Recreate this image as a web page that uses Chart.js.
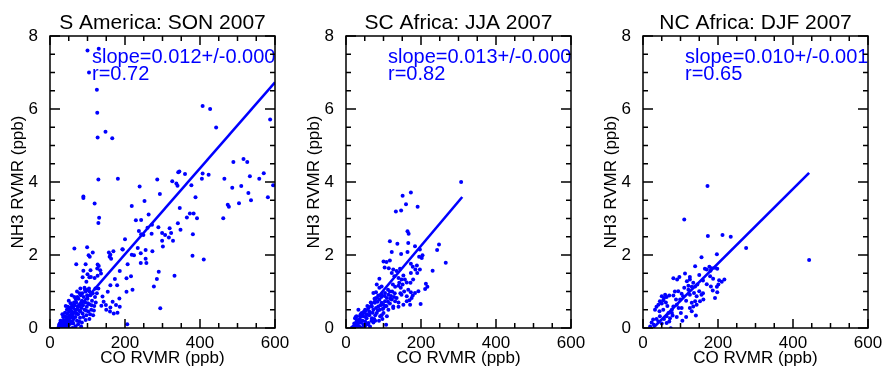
<!DOCTYPE html>
<html>
<head>
<meta charset="utf-8">
<script src="https://cdn.jsdelivr.net/npm/chart.js@4.4.1/dist/chart.umd.min.js"></script>
<style>
  html, body { margin: 0; padding: 0; background: #fff; }
  #wrap { position: relative; width: 882px; height: 371px; overflow: hidden; }
  canvas { position: absolute; top: 0; }
</style>
</head>
<body>
<div id="wrap">
  <canvas id="c1" width="290" height="371" style="left:0px"></canvas>
  <canvas id="c2" width="290" height="371" style="left:296px"></canvas>
  <canvas id="c3" width="289" height="371" style="left:593px"></canvas>
</div>
<script>
// axis ticks
const xTicks = [0, 200, 400, 600]
const yTicks = [0, 2, 4, 6, 8]
const xMinorStep = 50
const yMinorStep = 0.5

const titles = ['S America: SON 2007', 'SC Africa: JJA 2007', 'NC Africa: DJF 2007']
const slopeLabels = ['slope=0.012+/-0.000', 'slope=0.013+/-0.000', 'slope=0.010+/-0.001']
const rLabels = ['r=0.72', 'r=0.82', 'r=0.65']

// S America (CO ppb, NH3 ppb)
const saCO = [100,130,104,125,126,127,148,166,407,427,
  443,587,489,516,526,345,342,360,407,423,
  405,465,533,570,558,595,486,510,529,536,
  581,504,474,477,462,286,326,337,340,239,
  293,377,388,252,218,346,263,229,243,373,
  383,365,392,341,348,381,272,260,237,243,
  271,249,289,299,307,319,323,317,299,328,
  301,200,193,234,255,242,218,224,273,255,
  242,257,207,380,410,216,204,290,285,332,
  277,204,220,294,206,186,186,129,181,89,
  89,119,131,129,65,99,103,106,114,157,
  161,169,159,163,194,127,95,70,130,126,
  134,89,108,100,105,119,127,136,87,97,
  81,92,98,105,140,154,143,149,161,167,
  176,185,48,57,109,121,129,161,179,173,
  137,160,170,150,180,
  22,25,28,30,32,35,36,38,40,42,
  44,45,47,48,50,52,53,55,56,58,
  60,60,62,63,65,66,68,70,70,72,
  74,75,76,78,80,80,82,84,85,87,
  88,90,92,94,95,97,98,100,102,105,
  108,110,112,115,118,120,35,40,45,50,
  55,65,72,60,68,75,85,95,105,28,
  33,42,50,58,48,38,55,83,30,26,
  24,27,31,34,37,39,41,43,46,49,
  51,54,57,59,61,64,67,69,71,73,
  77,79,81,83,86,89,91,93,96,99,
  101,104,107,111,114,117,122,125,62,78]
const saNH3 = [7.6,7.65,7.0,6.53,5.9,5.22,5.38,5.2,6.08,6.0,
  5.49,5.71,4.55,4.63,4.55,4.29,4.27,4.22,4.23,4.2,
  4.09,4.09,4.16,4.24,4.09,3.91,3.84,3.89,3.7,3.5,
  3.58,3.42,3.38,3.32,3.01,4.07,4.02,3.96,3.9,3.88,
  3.67,3.91,3.58,3.48,3.34,3.29,3.11,2.95,2.96,3.14,
  3.14,3.03,3.01,2.87,2.69,2.57,2.83,2.75,2.66,2.57,
  2.58,2.55,2.76,2.6,2.55,2.73,2.6,2.48,2.39,2.39,
  2.23,2.43,2.16,2.19,2.14,2.05,2.01,1.99,2.1,1.9,
  1.78,1.78,1.75,1.98,1.88,1.42,1.36,1.54,1.34,1.43,
  1.14,0.99,1.05,0.54,0.1,0.58,1.56,4.07,4.09,3.6,
  3.56,3.41,3.02,2.88,2.18,2.21,1.99,1.95,2.07,2.07,
  2.01,2.1,1.95,1.9,2.15,1.74,1.75,1.75,1.7,1.63,
  1.58,1.57,1.58,1.47,1.39,1.37,1.43,1.49,1.39,1.27,
  1.08,1.1,1.04,1.01,0.86,0.99,0.72,0.63,0.56,0.72,
  0.63,0.81,0.58,0.56,1.4,1.08,1.08,1.17,1.17,1.34,
  0.61,0.45,0.4,0.5,0.42,
  0.0,0.05,0.02,0.1,0.0,0.08,0.15,0.05,0.2,0.1,
  0.0,0.25,0.15,0.3,0.08,0.2,0.35,0.12,0.28,0.45,
  0.18,0.38,0.55,0.25,0.42,0.62,0.3,0.5,0.7,0.2,
  0.58,0.38,0.8,0.48,0.65,0.28,0.9,0.55,0.75,0.4,
  0.62,0.85,0.5,0.7,1.0,0.35,0.58,0.8,0.45,0.65,
  0.9,0.5,0.75,0.35,0.6,0.85,0.3,0.42,0.5,0.55,
  0.68,0.85,1.0,0.0,0.05,0.1,0.15,0.22,0.25,0.2,
  0.38,0.6,0.75,0.9,0.02,-0.02,-0.02,0.04,0.05,0.12,
  0.08,0.0,0.18,0.12,0.22,0.32,0.05,0.3,0.4,0.18,
  0.45,0.5,0.38,0.62,0.3,0.7,0.5,0.78,0.4,0.85,
  0.62,0.95,0.45,0.7,0.95,0.3,0.72,1.05,0.48,0.9,
  0.68,1.08,0.38,0.62,0.95,0.48,0.7,0.95,0.12,0.18]

// SC Africa
const scCO = [307,151,173,160,191,133,147,164,167,117,
  137,166,184,197,248,243,122,147,164,195,
  202,204,266,100,108,103,117,114,126,122,
  135,144,173,178,189,185,173,197,190,231,
  89,129,140,153,157,162,172,179,213,217,
  211,125,131,140,146,151,166,173,178,184,
  193,175,169,162,199,82,89,95,73,80,
  86,95,104,113,117,109,122,131,140,117,
  126,104,95,89,80,77,69,60,51,73,
  82,64,42,33,46,55,69,37,28,24,
  20,33,46,15,60,73,107,91,100,37,
  28,51,64,42,24,86,100,113,126,135,
  148,140,109,153,162,171,148,142,55,62,
  78,85,92,98,105,112,120,130,68,58,
  40,50,30,75,88,95,145,155,
  18,22,26,30,35,39,44,48,53,57,
  62,66,71,76,80,84,90,94,99,103,
  108,112,118,123,128,35,55,78,97,26]
const scNH3 = [4.0,3.62,3.71,3.39,3.32,3.19,3.22,2.65,2.58,2.38,
  2.31,2.33,2.24,2.15,2.29,2.14,2.08,2.03,2.08,1.95,
  1.92,1.99,1.79,1.82,1.81,1.66,1.85,1.64,1.6,1.51,
  1.56,1.62,1.76,1.68,1.71,1.6,1.51,1.6,1.51,1.57,
  1.35,1.42,1.37,1.44,1.33,1.25,1.24,1.33,1.21,1.13,
  1.07,1.19,1.13,1.16,1.1,1.19,1.05,0.98,0.89,0.96,
  1.01,0.82,0.76,0.87,0.66,1.19,1.1,1.14,0.96,0.98,
  0.89,0.91,0.96,0.91,1.0,0.82,0.78,0.73,0.7,0.67,
  0.59,0.73,0.69,0.78,0.82,0.69,0.59,0.55,0.5,0.5,
  0.41,0.41,0.41,0.5,0.32,0.27,0.27,0.23,0.18,0.09,
  0.04,0.04,0.09,0.0,0.14,0.15,0.09,0.32,0.41,0.32,
  0.32,0.18,0.04,0.0,0.27,0.59,0.55,0.5,0.55,0.82,
  0.91,0.58,0.32,0.64,0.73,0.64,1.33,1.24,0.38,0.45,
  0.35,0.48,0.62,0.52,0.6,0.72,0.88,0.95,0.2,0.1,
  0.15,0.05,0.1,0.25,0.2,0.35,0.95,1.0,
  0.02,0.12,0.05,0.22,0.15,0.38,0.2,0.45,0.3,0.6,
  0.35,0.7,0.42,0.8,0.55,0.72,0.5,0.85,0.65,0.88,
  0.6,1.05,0.8,1.0,0.85,0.05,0.1,0.2,0.25,0.3]

// NC Africa
const ncCO = [172,110,173,212,234,275,443,197,156,139,
  165,170,177,183,192,198,180,112,97,91,
  81,179,187,203,210,217,201,117,125,134,
  121,130,139,145,181,197,186,198,192,94,
  103,107,99,81,121,125,136,143,150,156,
  161,152,139,130,143,125,134,141,130,101,
  103,90,77,81,59,50,56,63,70,45,
  54,61,41,50,36,32,44,54,68,63,
  45,36,27,23,29,19,41,56,72,70,
  50,63,77,79,74,88,110,115,85,160,
  150,95,115,105,160,170,125,90,65]
const ncNH3 = [3.89,2.97,2.52,2.55,2.5,2.19,1.86,2.02,1.94,1.69,
  1.62,1.6,1.68,1.64,1.65,1.62,1.57,1.49,1.4,1.33,
  1.36,1.42,1.35,1.31,1.27,1.33,1.19,1.28,1.33,1.24,
  1.16,1.13,1.14,1.19,1.14,1.13,1.03,0.98,0.82,1.01,
  0.94,0.87,0.78,0.89,1.05,0.91,0.96,0.87,1.01,0.91,
  0.78,0.73,0.73,0.69,0.64,0.55,0.59,0.34,0.46,0.41,
  0.55,0.64,0.5,0.59,0.91,0.87,0.82,0.85,0.89,0.73,
  0.76,0.7,0.64,0.67,0.58,0.5,0.46,0.5,0.41,0.32,
  0.32,0.25,0.23,0.15,0.09,0.04,0.18,0.25,0.27,0.18,
  0.12,0.14,0.41,0.34,-0.01,0.78,1.1,0.75,1.0,1.3,
  1.45,0.55,0.3,0.2,0.95,1.2,1.4,0.3,0.6]

// regression line end points [CO], [NH3]
const fitCO = [[30, 600], [15, 310], [27, 443]]
const fitNH3 = [[0.02, 6.73], [0.0, 3.59], [0.0, 4.25]]

const panels = [[saCO, saNH3], [scCO, scNH3], [ncCO, ncNH3]]

const BLUE = '#0000ff'
const FONT = "'Liberation Sans', Arial, Helvetica, sans-serif"

// box + inward ticks on all four sides
const frameTicks = {
  id: 'frameTicks',
  afterDraw(chart) {
    const {ctx, chartArea: a, scales: {x, y}} = chart
    ctx.save()
    ctx.strokeStyle = '#000'
    ctx.lineWidth = 1.5
    ctx.strokeRect(a.left, a.top, a.right - a.left, a.bottom - a.top)
    ctx.beginPath()
    for (let v = x.min; v <= x.max; v += xMinorStep) {
      const px = x.getPixelForValue(v)
      const len = xTicks.includes(v) ? 9 : 5
      ctx.moveTo(px, a.bottom); ctx.lineTo(px, a.bottom - len)
      ctx.moveTo(px, a.top); ctx.lineTo(px, a.top + len)
    }
    for (let v = y.min; v <= y.max + 1e-9; v += yMinorStep) {
      const py = y.getPixelForValue(v)
      const len = yTicks.includes(v) ? 10 : 5
      ctx.moveTo(a.left, py); ctx.lineTo(a.left + len, py)
      ctx.moveTo(a.right, py); ctx.lineTo(a.right - len, py)
    }
    ctx.stroke()
    ctx.restore()
  }
}

// panel title + slope / r annotation
const panelText = {
  id: 'panelText',
  afterDatasetsDraw(chart, args, opts) {
    const {ctx, chartArea: a} = chart
    ctx.save()
    ctx.textBaseline = 'alphabetic'
    ctx.fillStyle = '#000'
    ctx.font = '21px ' + FONT
    ctx.textAlign = 'center'
    ctx.fillText(opts.title, (a.left + a.right) / 2, 29)
    ctx.fillStyle = BLUE
    ctx.font = '20px ' + FONT
    ctx.textAlign = 'left'
    ctx.fillText(opts.slope, a.left + 42, a.top + 27)
    ctx.fillText(opts.r, a.left + 42, a.top + 44)
    ctx.restore()
  }
}

function makeChart(id, i) {
  const [co, nh3] = panels[i]
  const pts = co.map((c, k) => ({x: c, y: nh3[k]}))
  const line = fitCO[i].map((c, k) => ({x: c, y: fitNH3[i][k]}))
  const canvas = document.getElementById(id)
  new Chart(canvas, {
    type: 'scatter',
    data: {
      datasets: [
        {
          type: 'line',
          data: line,
          borderColor: BLUE,
          borderWidth: 2.6,
          pointRadius: 0,
          fill: false
        },
        {
          data: pts,
          pointRadius: 2,
          pointBackgroundColor: BLUE,
          pointBorderWidth: 0,
          borderColor: BLUE
        }
      ]
    },
    options: {
      responsive: false,
      animation: false,
      devicePixelRatio: 1,
      layout: {padding: {left: 0, right: canvas.width - 275, top: 36, bottom: 0}},
      plugins: {
        legend: {display: false},
        tooltip: {enabled: false},
        title: {display: false},
        panelText: {title: titles[i], slope: slopeLabels[i], r: rLabels[i]}
      },
      scales: {
        x: {
          type: 'linear',
          min: 0, max: 600,
          afterBuildTicks: s => { s.ticks = xTicks.map(v => ({value: v})) },
          afterFit: s => { s.height = 43; s.paddingLeft = 0; s.paddingRight = 0 },
          grid: {display: false},
          border: {display: false},
          ticks: {color: '#000', font: {family: FONT, size: 17}, padding: -3, maxRotation: 0, autoSkip: false},
          title: {display: true, text: 'CO RVMR (ppb)', color: '#000',
            font: {family: FONT, size: 17, lineHeight: 1.2}, padding: {top: 0, bottom: 2}}
        },
        y: {
          type: 'linear',
          min: 0, max: 8,
          afterBuildTicks: s => { s.ticks = yTicks.map(v => ({value: v})) },
          afterFit: s => { s.width = 50; s.paddingTop = 0; s.paddingBottom = 0 },
          grid: {display: false},
          border: {display: false},
          ticks: {color: '#000', font: {family: FONT, size: 17}, padding: 4},
          title: {display: true, text: 'NH3 RVMR (ppb)', color: '#000',
            font: {family: FONT, size: 17, lineHeight: 1.2}, padding: {top: 8, bottom: 0}}
        }
      }
    },
    plugins: [frameTicks, panelText]
  })
}

makeChart('c1', 0)
makeChart('c2', 1)
makeChart('c3', 2)
</script>
</body>
</html>
